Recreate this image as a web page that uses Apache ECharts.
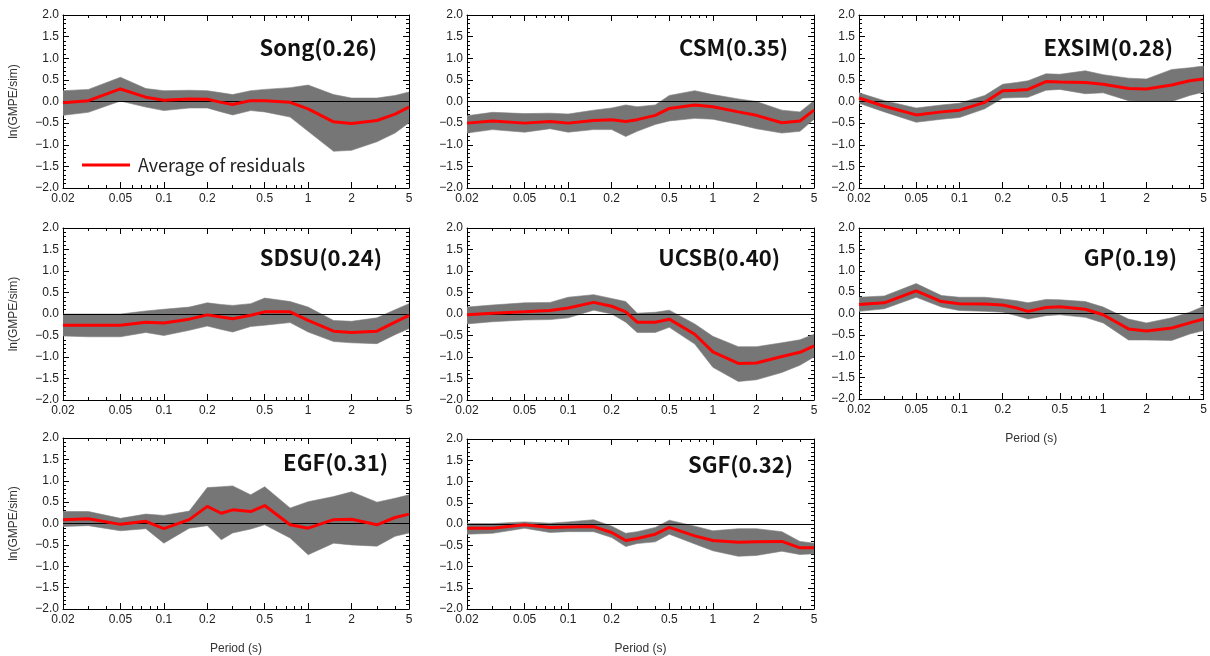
<!DOCTYPE html>
<html>
<head>
<meta charset="utf-8">
<script src="https://cdn.jsdelivr.net/npm/echarts@6/dist/echarts.min.js"></script>
<style>
html,body{margin:0;padding:0;background:#fff;}
#chart{width:1210px;height:656px;}
</style>
</head>
<body>
<div id="chart"></div>
<script>
// ---------- data ----------
const periods = [0.02,0.03,0.05,0.075,0.1,0.15,0.2,0.25,0.3,0.4,0.5,0.75,1,1.5,2,3,4,5];
const majorTickPeriods = [0.02,0.05,0.1,0.2,0.5,1,2,5];
const minorTickPeriods = [0.03,0.04,0.06,0.07,0.08,0.09,0.3,0.4,0.6,0.7,0.8,0.9,3,4];
const modelNames = ['Song','CSM','EXSIM','SDSU','UCSB','GP','EGF','SGF'];
const modelSigma = ['0.26','0.35','0.28','0.24','0.40','0.19','0.31','0.32'];

const songMean  = [-0.03,0.02,0.29,0.1,0.03,0.06,0.05,-0.02,-0.07,0.02,0.02,-0.02,-0.17,-0.47,-0.51,-0.44,-0.29,-0.13];
const songUpper = [0.25,0.28,0.56,0.3,0.25,0.26,0.25,0.2,0.16,0.25,0.28,0.32,0.38,0.16,0.08,0.08,0.14,0.22];
const songLower = [-0.32,-0.25,0.01,-0.13,-0.21,-0.15,-0.15,-0.24,-0.31,-0.21,-0.24,-0.36,-0.69,-1.15,-1.13,-0.93,-0.73,-0.49];

const csmMean  = [-0.5,-0.45,-0.5,-0.46,-0.5,-0.44,-0.42,-0.46,-0.42,-0.32,-0.16,-0.08,-0.12,-0.24,-0.32,-0.49,-0.45,-0.2];
const csmUpper = [-0.33,-0.25,-0.28,-0.27,-0.29,-0.2,-0.15,-0.08,-0.12,-0.08,0.14,0.25,0.16,0.06,0.0,-0.2,-0.24,0.02];
const csmLower = [-0.73,-0.65,-0.71,-0.63,-0.71,-0.65,-0.65,-0.81,-0.69,-0.53,-0.45,-0.39,-0.41,-0.53,-0.63,-0.73,-0.69,-0.41];

const exsimMean  = [0.08,-0.11,-0.31,-0.24,-0.2,-0.02,0.25,0.26,0.28,0.46,0.45,0.44,0.4,0.3,0.29,0.38,0.48,0.52];
const exsimUpper = [0.2,0.02,-0.15,-0.08,-0.04,0.14,0.4,0.44,0.48,0.64,0.63,0.71,0.62,0.54,0.52,0.74,0.78,0.82];
const exsimLower = [-0.04,-0.24,-0.48,-0.41,-0.37,-0.17,0.08,0.09,0.1,0.26,0.28,0.18,0.2,0.02,0.0,0.0,0.14,0.22];

const sdsuMean  = [-0.26,-0.26,-0.26,-0.19,-0.21,-0.12,-0.02,-0.07,-0.11,-0.03,0.05,0.05,-0.15,-0.4,-0.43,-0.4,-0.19,-0.03];
const sdsuUpper = [0.0,0.0,0.0,0.07,0.11,0.16,0.26,0.22,0.2,0.24,0.37,0.29,0.16,-0.15,-0.17,-0.09,0.1,0.24];
const sdsuLower = [-0.51,-0.53,-0.53,-0.43,-0.5,-0.38,-0.28,-0.36,-0.42,-0.29,-0.26,-0.2,-0.42,-0.64,-0.67,-0.69,-0.48,-0.34];

const ucsbMean  = [-0.02,0.02,0.05,0.08,0.14,0.27,0.18,0.05,-0.19,-0.19,-0.12,-0.47,-0.88,-1.15,-1.14,-0.99,-0.89,-0.74];
const ucsbUpper = [0.16,0.21,0.26,0.27,0.39,0.45,0.36,0.29,0.02,0.04,0.09,-0.23,-0.52,-0.76,-0.76,-0.67,-0.6,-0.47];
const ucsbLower = [-0.23,-0.18,-0.14,-0.13,-0.09,0.09,0.0,-0.19,-0.43,-0.43,-0.31,-0.7,-1.24,-1.57,-1.53,-1.36,-1.19,-1.0];

const gpMean  = [0.21,0.25,0.53,0.28,0.23,0.22,0.2,0.13,0.05,0.14,0.16,0.1,-0.03,-0.36,-0.41,-0.34,-0.22,-0.13];
const gpUpper = [0.38,0.41,0.7,0.42,0.38,0.38,0.34,0.3,0.25,0.33,0.32,0.28,0.15,-0.13,-0.22,-0.1,0.03,0.17];
const gpLower = [0.05,0.11,0.38,0.15,0.07,0.05,0.03,-0.05,-0.13,-0.05,-0.03,-0.09,-0.22,-0.62,-0.62,-0.63,-0.48,-0.4];

const egfMean  = [0.09,0.11,-0.02,0.05,-0.12,0.09,0.4,0.24,0.32,0.28,0.42,-0.03,-0.11,0.09,0.1,-0.03,0.14,0.22];
const egfUpper = [0.28,0.28,0.12,0.22,0.19,0.29,0.84,0.86,0.88,0.67,0.86,0.36,0.51,0.63,0.74,0.5,0.59,0.67];
const egfLower = [-0.07,-0.05,-0.17,-0.12,-0.46,-0.11,-0.05,-0.38,-0.22,-0.13,-0.03,-0.34,-0.73,-0.46,-0.5,-0.53,-0.3,-0.22];

const sgfMean  = [-0.1,-0.1,-0.02,-0.08,-0.07,-0.06,-0.2,-0.39,-0.34,-0.24,-0.08,-0.28,-0.39,-0.43,-0.42,-0.41,-0.56,-0.56];
const sgfUpper = [0.01,0.01,0.05,0.02,0.05,0.1,-0.05,-0.22,-0.18,-0.08,0.09,-0.05,-0.16,-0.11,-0.11,-0.18,-0.41,-0.45];
const sgfLower = [-0.24,-0.22,-0.1,-0.2,-0.18,-0.18,-0.32,-0.53,-0.46,-0.42,-0.24,-0.47,-0.63,-0.76,-0.74,-0.64,-0.72,-0.7];

const meanSets  = [songMean, csmMean, exsimMean, sdsuMean, ucsbMean, gpMean, egfMean, sgfMean];
const upperSets = [songUpper, csmUpper, exsimUpper, sdsuUpper, ucsbUpper, gpUpper, egfUpper, sgfUpper];
const lowerSets = [songLower, csmLower, exsimLower, sdsuLower, ucsbLower, gpLower, egfLower, sgfLower];

// ---------- layout ----------
const gridBoxes = [
  [63,15,346,173],[467,15,347,173],[859,15,346,173],
  [63,228,346,172],[467,228,347,172],[859,228,346,171],
  [63,438,346,172],[467,439,347,172]
];
const titlePos = [[828,32],[417,32],[32,32],[823,242],[425,242],[28,242],[817,447],[412,449]];
const showYName = [true,false,false,true,false,false,true,false];
const showXName = [false,false,false,false,false,true,true,true];

const labelFont = {fontFamily:'Liberation Sans, Arial, sans-serif', fontSize:12, color:'#222'};
const fmtP = v => String(parseFloat(Number(v).toPrecision(3)));
const fmtY = v => v.toFixed(1).replace('-', '\u2212');

const grid = [], xAxis = [], yAxis = [], series = [], title = [];

function bandRenderer(lower, upper) {
  return function (params, api) {
    if (params.dataIndex !== 0) return null;
    const pts = [];
    for (let k = 0; k < periods.length; k++) pts.push(api.coord([periods[k], upper[k]]));
    for (let k = periods.length - 1; k >= 0; k--) pts.push(api.coord([periods[k], lower[k]]));
    return {
      type:'polygon',
      shape:{points:pts},
      style:{fill:'#767676', stroke:'#808080', lineWidth:0.6},
      clipPath:{type:'rect', shape:{x:params.coordSys.x, y:params.coordSys.y, width:params.coordSys.width, height:params.coordSys.height}}
    };
  };
}

gridBoxes.forEach((b, i) => {
  grid.push({left:b[0], top:b[1], width:b[2], height:b[3], containLabel:false});
  const base = {type:'log', logBase:10, min:0.02, max:5, gridIndex:i, splitLine:{show:false}};
  xAxis.push(Object.assign({}, base, {
    position:'bottom',
    axisLine:{show:true, onZero:false, lineStyle:{color:'#000', width:1}},
    axisTick:{show:true, inside:true, length:6, customValues:majorTickPeriods, lineStyle:{color:'#000'}},
    axisLabel:Object.assign({show:true, margin:5, customValues:majorTickPeriods, formatter:fmtP}, labelFont),
    minorTick:{show:false},
    name: showXName[i] ? 'Period (s)' : '',
    nameLocation:'middle', nameGap:34,
    nameTextStyle:{fontFamily:'Liberation Sans, Arial, sans-serif', fontSize:12, color:'#333'}
  }));
  xAxis.push(Object.assign({}, base, {
    position:'bottom',
    axisLine:{show:false, onZero:false},
    axisTick:{show:true, inside:true, length:3, customValues:minorTickPeriods, lineStyle:{color:'#000'}},
    axisLabel:{show:false}
  }));
  xAxis.push(Object.assign({}, base, {
    position:'top',
    axisLine:{show:true, onZero:false, lineStyle:{color:'#000', width:1}},
    axisTick:{show:true, inside:true, length:6, customValues:majorTickPeriods, lineStyle:{color:'#000'}},
    axisLabel:{show:false}
  }));
  xAxis.push(Object.assign({}, base, {
    position:'top',
    axisLine:{show:false, onZero:false},
    axisTick:{show:true, inside:true, length:3, customValues:minorTickPeriods, lineStyle:{color:'#000'}},
    axisLabel:{show:false}
  }));
  const ybase = {type:'value', min:-2, max:2, interval:0.5, gridIndex:i, splitLine:{show:false},
    axisLine:{show:true, onZero:false, lineStyle:{color:'#000', width:1}},
    axisTick:{show:true, inside:true, length:6, lineStyle:{color:'#000'}},
    minorTick:{show:true, splitNumber:5, length:3, lineStyle:{color:'#000'}}};
  yAxis.push(Object.assign({}, ybase, {
    position:'left',
    axisLabel:Object.assign({show:true, margin:4, formatter:fmtY}, labelFont),
    name: showYName[i] ? 'ln(GMPE/sim)' : '',
    nameLocation:'middle', nameGap:43,
    nameTextStyle:{fontFamily:'Liberation Sans, Arial, sans-serif', fontSize:12, color:'#333'}
  }));
  yAxis.push(Object.assign({}, ybase, {position:'right', axisLabel:{show:false}}));

  const xi = i*4, yi = i*2;
  const lower = lowerSets[i], upper = upperSets[i], mean = meanSets[i];
  series.push({
    name:'band'+i, type:'custom', xAxisIndex:xi, yAxisIndex:yi,
    data: periods.map((p,k)=>[p, lower[k], upper[k]]),
    encode:{x:0, y:[1,2]},
    renderItem: bandRenderer(lower, upper),
    silent:true, z:2,
    markLine:{silent:true, symbol:'none', label:{show:false}, z:5, animation:false,
      lineStyle:{color:'#000', width:1, type:'solid'}, data:[{yAxis:0}]}
  });
  series.push({
    name:'Average of residuals', type:'line', xAxisIndex:xi, yAxisIndex:yi,
    data: periods.map((p,k)=>[p, mean[k]]), symbol:'none',
    itemStyle:{color:'#ff0000'},
    lineStyle:{color:'#ff0000', width:3}, z:10
  });
  title.push({
    text: modelNames[i] + '(' + modelSigma[i] + ')',
    right: titlePos[i][0], top: titlePos[i][1],
    textStyle:{fontFamily:'Noto Sans CJK JP, Noto Sans, sans-serif', fontWeight:'bold', fontSize:22, color:'#111'}
  });
});

const chart = echarts.init(document.getElementById('chart'), null, {renderer:'canvas'});
chart.setOption({
  animation:false,
  backgroundColor:'#fff',
  title,
  legend:{
    show:true, data:[{name:'Average of residuals', icon:'rect'}], left:77, top:151,
    itemWidth:48, itemHeight:3,
    itemStyle:{color:'#ff0000'},
    textStyle:{fontFamily:'Noto Sans CJK JP, Noto Sans, sans-serif', fontSize:18, color:'#222', padding:[0,0,0,3]}
  },
  grid, xAxis, yAxis, series
});
</script>
</body>
</html>
